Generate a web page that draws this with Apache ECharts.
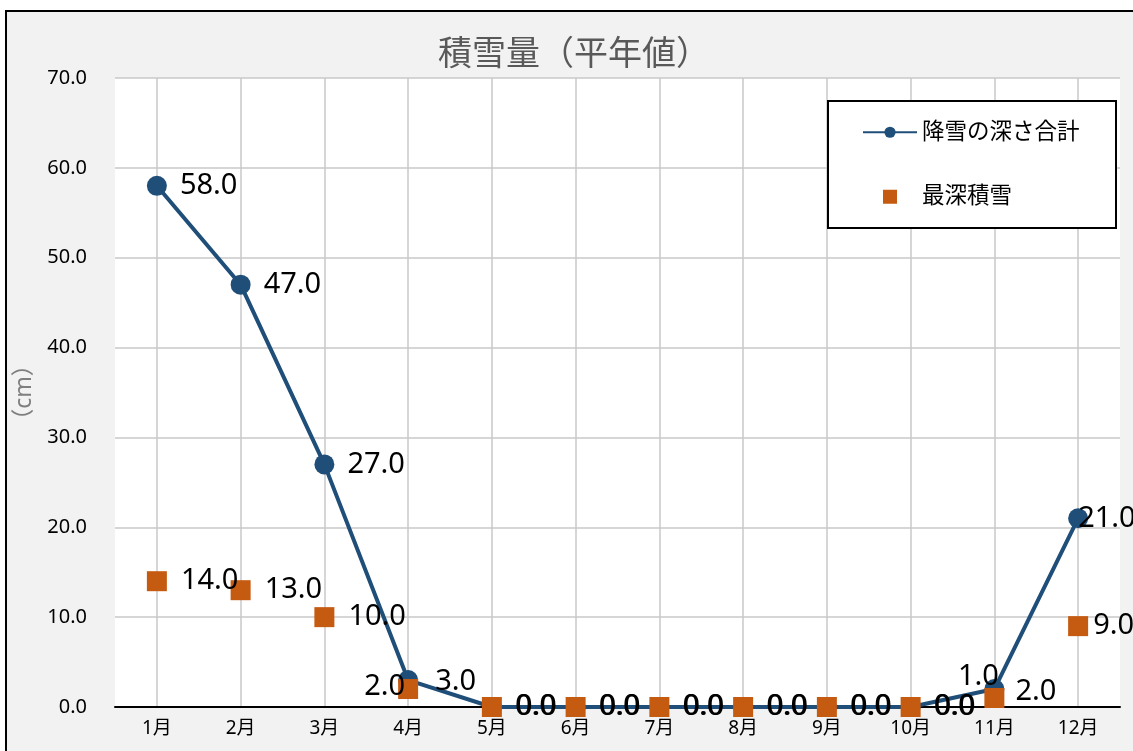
<!DOCTYPE html>
<html>
<head>
<meta charset="utf-8">
<script src="https://cdn.jsdelivr.net/npm/echarts@6/dist/echarts.min.js"></script>
<style>
  html, body { margin: 0; padding: 0; background: #fff; }
  #chart { width: 1133px; height: 751px; }
</style>
</head>
<body>
<div id="chart"></div>
<script>
// Monthly normals of snowfall (cm)
const months = ['1月', '2月', '3月', '4月', '5月', '6月', '7月', '8月', '9月', '10月', '11月', '12月'];
const snowfallTotal = [58, 47, 27, 3, 0, 0, 0, 0, 0, 0, 2, 21];   // 降雪の深さ合計
const maxSnowDepth = [14, 13, 10, 2, 0, 0, 0, 0, 0, 0, 1, 9];     // 最深積雪
const yTicks = { min: 0, max: 70, interval: 10 };

const FONT = "'Noto Sans', 'Noto Sans CJK JP', sans-serif";
const CJK_FONT = "'Noto Sans CJK JP', 'Noto Sans', sans-serif";
const LINE_COLOR = '#1f4e79';
const SQUARE_COLOR = '#c55a11';
const SQUARE_PATH = 'path://M0,0H10V10H0Z';

// Per-point label tweaks so crowded labels stay readable
const lineLabelTweaks = {
  3: { offset: [4, 2] },
  10: { offset: [-2, 3] },
  11: { offset: [-23, 0] }
};
const squareLabelTweaks = {
  3: { position: 'left', distance: 5, offset: [12, -2] },
  10: { position: 'inside', offset: [-16, -21] },
  11: { offset: [-9, 0] }
};

function buildData(values, tweaks) {
  return values.map((v, i) => tweaks[i] ? { value: v, label: tweaks[i] } : v);
}

const chart = echarts.init(document.getElementById('chart'));
chart.setOption({
  animation: false,
  backgroundColor: '#ffffff',
  graphic: [
    {
      type: 'rect', z: -10,
      shape: { x: 6, y: 11, width: 1140, height: 760 },
      style: { fill: '#f2f2f2', stroke: '#000', lineWidth: 2 }
    },
    {
      type: 'rect', z: 3,
      shape: { x: 828, y: 101, width: 288, height: 127 },
      style: { fill: '#ffffff', stroke: '#000', lineWidth: 2 }
    }
  ],
  title: {
    text: '積雪量（平年値）',
    left: 574, top: 35, padding: 0,
    textAlign: 'center',
    textStyle: { fontFamily: CJK_FONT, fontSize: 34, fontWeight: 'normal', color: '#595959' }
  },
  legend: {
    orient: 'vertical',
    left: 862, top: 121, padding: 0,
    itemWidth: 54, itemHeight: 14, itemGap: 42,
    symbolKeepAspect: true,
    data: [
      { name: '降雪の深さ合計' },
      { name: '最深積雪', icon: SQUARE_PATH }
    ],
    textStyle: { fontFamily: FONT, fontSize: 22.5, color: '#000' },
    z: 5
  },
  grid: {
    left: 115, right: 13, top: 78, bottom: 44,
    show: true, backgroundColor: '#ffffff', borderWidth: 0
  },
  xAxis: {
    type: 'category',
    data: months,
    boundaryGap: true,
    axisLine: { show: true, lineStyle: { color: '#000', width: 2 } },
    axisTick: { show: false },
    axisLabel: { fontFamily: FONT, fontSize: 19, color: '#000', margin: 12 },
    splitLine: { show: true, alignWithLabel: true, lineStyle: { color: '#c9c9c9', width: 1.5 } }
  },
  yAxis: {
    type: 'value',
    min: yTicks.min, max: yTicks.max, interval: yTicks.interval,
    name: '（cm）',
    nameLocation: 'middle',
    nameRotate: 90,
    nameGap: 76,
    nameTextStyle: { fontFamily: FONT, fontSize: 23, color: '#7f7f7f' },
    axisLine: { show: false },
    axisTick: { show: false },
    axisLabel: {
      fontFamily: FONT, fontSize: 20, color: '#000', margin: 28,
      formatter: v => v.toFixed(1)
    },
    splitLine: { show: true, lineStyle: { color: '#c9c9c9', width: 1.5 } }
  },
  series: [
    {
      name: '降雪の深さ合計',
      type: 'line',
      data: buildData(snowfallTotal, lineLabelTweaks),
      symbol: 'circle',
      symbolSize: 20,
      showAllSymbol: true,
      z: 2,
      lineStyle: { color: LINE_COLOR, width: 4 },
      itemStyle: { color: LINE_COLOR },
      label: {
        show: true, position: 'right', distance: 13,
        fontFamily: FONT, fontSize: 29, color: '#000',
        formatter: p => Number(p.value).toFixed(1)
      }
    },
    {
      name: '最深積雪',
      type: 'scatter',
      data: buildData(maxSnowDepth, squareLabelTweaks),
      symbol: SQUARE_PATH,
      symbolKeepAspect: true,
      symbolSize: 20,
      z: 3,
      itemStyle: { color: SQUARE_COLOR, opacity: 1 },
      label: {
        show: true, position: 'right', distance: 14,
        fontFamily: FONT, fontSize: 29, color: '#000',
        formatter: p => Number(p.value).toFixed(1)
      }
    }
  ]
});
</script>
</body>
</html>
